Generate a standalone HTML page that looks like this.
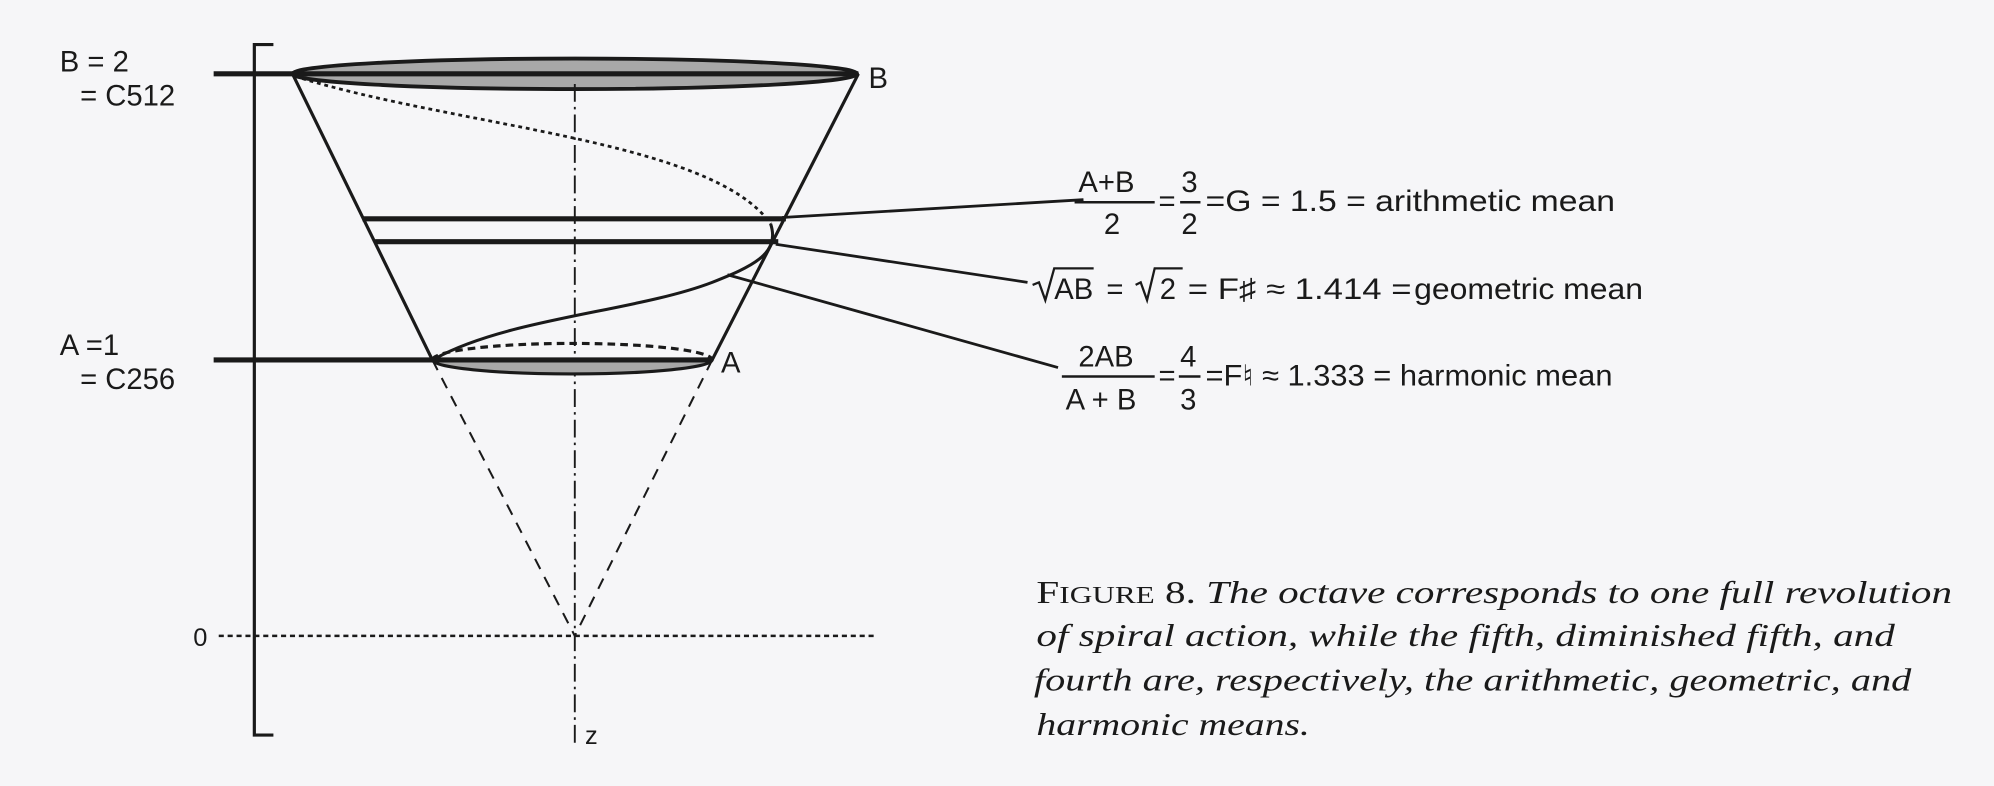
<!DOCTYPE html>
<html><head><meta charset="utf-8"><style>
html,body{margin:0;padding:0;background:#f6f6f8;}
svg{display:block}
text{font-family:"Liberation Sans",sans-serif;fill:#1a1a1a}
.c{font-family:"Liberation Serif",serif;font-style:italic;font-size:25px}
</style></head><body>
<svg width="1994" height="786" viewBox="0 0 1568 618" xmlns="http://www.w3.org/2000/svg">
<rect width="1568" height="618" fill="#f6f6f8"/>
<g stroke="#1a1a1a" fill="none">
<path d="M215 35 H200 V578 H215" stroke-width="2.5"/>
<ellipse cx="452" cy="58" rx="222" ry="12" fill="#a8a8a8" stroke-width="3"/>
<line x1="168" y1="58" x2="675" y2="58" stroke-width="4"/>
<line x1="230" y1="58" x2="340" y2="283" stroke-width="2.5"/>
<line x1="675" y1="58" x2="560" y2="283" stroke-width="2.5"/>
<line x1="340" y1="283" x2="452" y2="500" stroke-width="1.6" stroke-dasharray="9,7"/>
<line x1="560" y1="283" x2="452" y2="500" stroke-width="1.6" stroke-dasharray="9,7"/>
<line x1="452" y1="66" x2="452" y2="585" stroke-width="1.5" stroke-dasharray="14,4,2,4"/>
<line x1="172" y1="500" x2="688" y2="500" stroke-width="2" stroke-dasharray="4,3"/>
<path d="M340 283 A110 11 0 0 0 560 283" fill="#a8a8a8" stroke-width="2.5"/>
<path d="M340 283 A110 13 0 0 1 560 283" stroke-width="2.5" stroke-dasharray="6,4"/>
<line x1="168" y1="283" x2="560" y2="283" stroke-width="4"/>
<line x1="285" y1="172" x2="618" y2="172" stroke-width="4"/>
<line x1="295" y1="190" x2="612" y2="190" stroke-width="4"/>
<path d="M232 60 C360 100 560 110 606 176" stroke-width="2.2" stroke-dasharray="3,3"/>
<path d="M606 176 C614 200 590 210 560 222 C500 245 400 250 342 282" stroke-width="2.4"/>
<line x1="615" y1="171" x2="852" y2="157" stroke-width="2.2"/>
<line x1="610" y1="192" x2="808" y2="222" stroke-width="2.2"/>
<line x1="572" y1="216" x2="832" y2="289" stroke-width="2.2"/>
<line x1="845" y1="159" x2="908" y2="159" stroke-width="2"/>
<line x1="928" y1="159" x2="944" y2="159" stroke-width="2"/>
<line x1="835" y1="296" x2="908" y2="296" stroke-width="2"/>
<line x1="927" y1="296" x2="944" y2="296" stroke-width="2"/>
<path d="M812 224 L817 222 L822 236 L829 211 H860" stroke-width="1.8"/>
<path d="M893 224 L897 222 L902 236 L908 211 H930" stroke-width="1.8"/>
</g>
<g font-size="23">
<text x="47" y="56">B = 2</text>
<text x="63" y="83">= C512</text>
<text x="683" y="69">B</text>
<text x="47" y="279">A =1</text>
<text x="63" y="306">= C256</text>
<text x="567" y="293">A</text>
<text x="152" y="508" font-size="20">0</text>
<text x="460" y="585" font-size="20">z</text>
<text x="848" y="151">A+B</text>
<text x="868" y="184">2</text>
<text x="929" y="151">3</text>
<text x="929" y="184">2</text>
<text x="911" y="166">=</text>
<text x="948" y="166" textLength="322" lengthAdjust="spacingAndGlyphs">=G = 1.5 = arithmetic mean</text>
<text x="829" y="235">AB</text>
<text x="870" y="235">=</text>
<text x="912" y="235">2</text>
<text x="934" y="235" textLength="176" lengthAdjust="spacingAndGlyphs">= F♯ ≈ 1.414 =</text>
<text x="1112" y="235" textLength="180" lengthAdjust="spacingAndGlyphs">geometric mean</text>
<text x="848" y="288">2AB</text>
<text x="838" y="322">A + B</text>
<text x="928" y="288">4</text>
<text x="928" y="322">3</text>
<text x="911" y="303">=</text>
<text x="948" y="303" textLength="320" lengthAdjust="spacingAndGlyphs">=F♮ ≈ 1.333 = harmonic mean</text>
</g>
<text class="c" x="815" y="474" textLength="720" lengthAdjust="spacingAndGlyphs"><tspan font-style="normal">F<tspan font-size="19">IGURE</tspan> 8.</tspan> The octave corresponds to one full revolution</text>
<text class="c" x="815" y="508" textLength="675" lengthAdjust="spacingAndGlyphs">of spiral action, while the fifth, diminished fifth, and</text>
<text class="c" x="813" y="543" textLength="690" lengthAdjust="spacingAndGlyphs">fourth are, respectively, the arithmetic, geometric, and</text>
<text class="c" x="815" y="578" textLength="215" lengthAdjust="spacingAndGlyphs">harmonic means.</text>
</svg>
</body></html>
